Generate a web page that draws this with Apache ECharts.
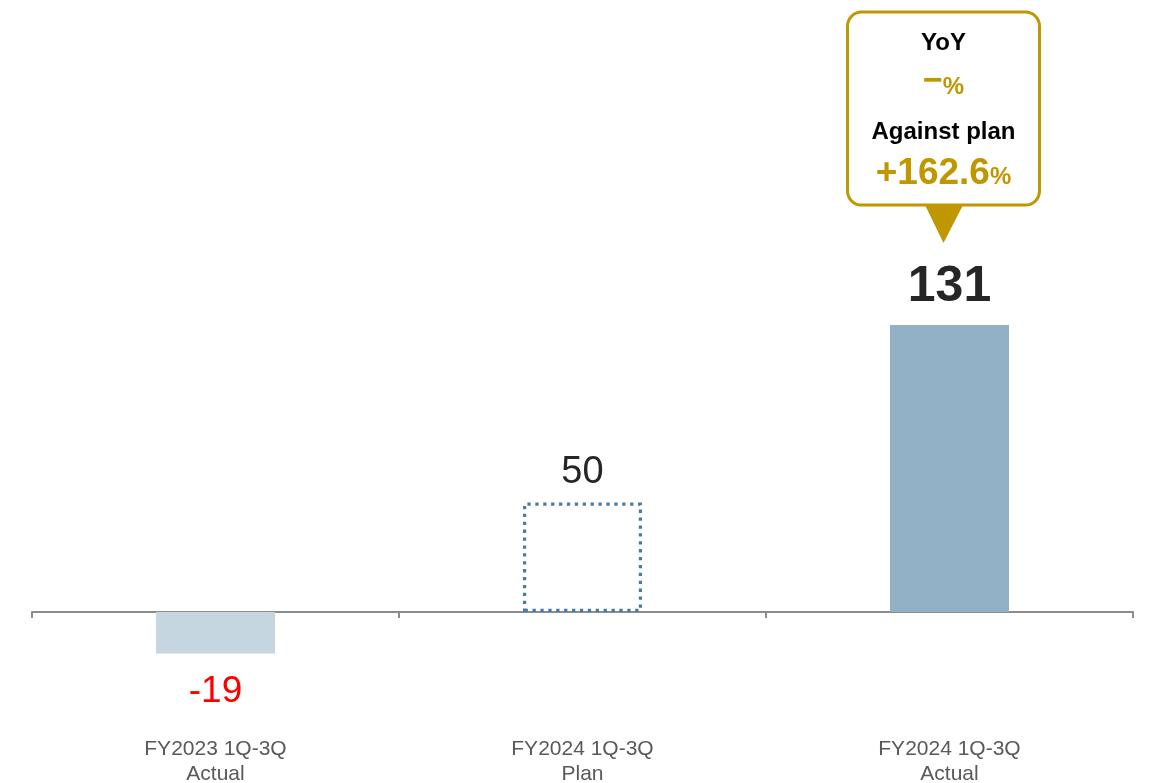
<!DOCTYPE html>
<html>
<head>
<meta charset="utf-8">
<script src="https://cdn.jsdelivr.net/npm/echarts@6/dist/echarts.min.js"></script>
<style>
  html, body { margin: 0; padding: 0; background: #fff; }
  #chart { width: 1170px; height: 783px; }
</style>
</head>
<body>
<div id="chart"></div>
<script>
var categories = ['FY2023 1Q-3Q\nActual', 'FY2024 1Q-3Q\nPlan', 'FY2024 1Q-3Q\nActual'];
var values = [-19, 50, 131];
var calloutLines = ['YoY', '−', 'Against plan', '+162.6'];

var gold = '#BF9700';
var font = '"Liberation Sans", Arial, sans-serif';

var chart = echarts.init(document.getElementById('chart'));

var barData = [
    {
        value: values[0],
        itemStyle: { color: '#C5D6E0' },
        label: { color: '#FF0000', fontSize: 37, distance: 20 }
    },
    {
        value: values[1],
        itemStyle: {
            color: 'rgba(0,0,0,0)',
            borderColor: '#4A7BA2',
            borderWidth: 3.2,
            borderType: [3.3, 4.6]
        },
        label: { color: '#262626', fontSize: 38, distance: 11 }
    },
    {
        value: values[2],
        itemStyle: { color: '#93B1C6' },
        label: { color: '#262626', fontSize: 50, fontWeight: 'bold', distance: 13 }
    }
];

var options = {
    animation: false,
    grid: { left: 32, right: 37, top: 174, bottom: 61.5, outerBoundsMode: 'none', containLabel: false },
    xAxis: {
        type: 'category',
        data: categories,
        boundaryGap: true,
        axisLine: { onZero: true, lineStyle: { color: '#8C8C8C', width: 2 } },
        axisTick: { show: true, length: 6, lineStyle: { color: '#8C8C8C', width: 2 } },
        axisLabel: {
            margin: 15,
            color: '#595959',
            fontSize: 21,
            lineHeight: 25,
            fontFamily: font
        }
    },
    yAxis: {
        type: 'value',
        min: -50,
        max: 200,
        show: false,
        splitLine: { show: false }
    },
    series: [
        {
            type: 'bar',
            barWidth: 119,
            data: barData,
            label: {
                show: true,
                position: 'outside',
                fontFamily: font
            }
        }
    ]
};

chart.setOption(options);

// callout anchored above the last bar
var top3 = chart.convertToPixel({ seriesIndex: 0 }, [2, values[2]]);
var cx = top3[0] - 6;
var boxBottom = top3[1] - 120;
var boxTop = top3[1] - 313;
var boxW = 192;

chart.setOption({
    graphic: [
        {
            type: 'rect',
            shape: { x: cx - boxW / 2, y: boxTop, width: boxW, height: boxBottom - boxTop, r: 14 },
            style: { fill: '#fff', stroke: gold, lineWidth: 3 }
        },
        {
            type: 'polygon',
            shape: { points: [[cx - 18, boxBottom + 1], [cx + 19, boxBottom + 1], [cx, boxBottom + 38]] },
            style: { fill: gold }
        },
        {
            type: 'text',
            x: cx, y: boxTop + 31,
            style: {
                text: calloutLines[0], fill: '#000', font: 'bold 24px ' + font,
                align: 'center', verticalAlign: 'middle'
            }
        },
        {
            type: 'text',
            x: cx, y: boxTop + 75,
            style: {
                text: '{a|' + calloutLines[1] + '}{b|%}',
                align: 'center', verticalAlign: 'middle',
                rich: {
                    a: { fill: gold, font: 'bold 34px ' + font, padding: [0, 0, 10, 0] },
                    b: { fill: gold, font: 'bold 24px ' + font }
                }
            }
        },
        {
            type: 'text',
            x: cx, y: boxTop + 120,
            style: {
                text: calloutLines[2], fill: '#000', font: 'bold 24px ' + font,
                align: 'center', verticalAlign: 'middle'
            }
        },
        {
            type: 'text',
            x: cx, y: boxTop + 162,
            style: {
                text: '{a|' + calloutLines[3] + '}{b|%}',
                align: 'center', verticalAlign: 'middle',
                rich: {
                    a: { fill: gold, font: 'bold 37px ' + font },
                    b: { fill: gold, font: 'bold 24px ' + font, padding: [7, 0, 0, 0] }
                }
            }
        }
    ]
});
</script>
</body>
</html>
